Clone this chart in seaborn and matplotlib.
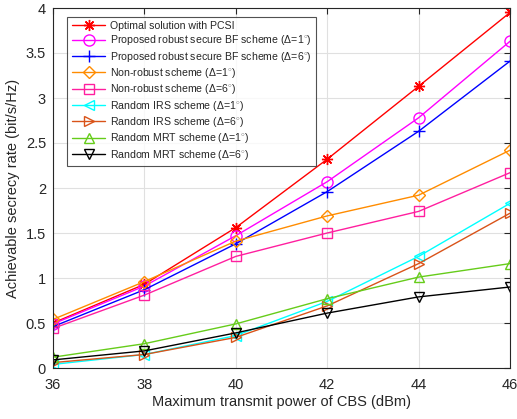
import numpy as np
import pandas as pd
import matplotlib
matplotlib.use("Agg")
import matplotlib.pyplot as plt
import seaborn as sns

# transmit power of CBS (dBm)
power = [36, 38, 40, 42, 44, 46]

optimal_pcsi = [0.50, 0.93, 1.56, 2.32, 3.13, 3.95]
robust_d1 = [0.49, 0.91, 1.47, 2.07, 2.78, 3.63]
robust_d6 = [0.46, 0.87, 1.38, 1.96, 2.63, 3.41]
nonrobust_d1 = [0.54, 0.96, 1.41, 1.69, 1.92, 2.42]
nonrobust_d6 = [0.44, 0.81, 1.24, 1.50, 1.74, 2.17]
rand_irs_d1 = [0.04, 0.15, 0.36, 0.74, 1.24, 1.83]
rand_irs_d6 = [0.06, 0.15, 0.34, 0.69, 1.16, 1.72]
rand_mrt_d1 = [0.12, 0.27, 0.49, 0.77, 1.01, 1.16]
rand_mrt_d6 = [0.09, 0.19, 0.39, 0.61, 0.79, 0.90]

labels = [
    "Optimal solution with PCSI",
    r"Proposed robust secure BF scheme ($\Delta$=1$^{\circ}$)",
    r"Proposed robust secure BF scheme ($\Delta$=6$^{\circ}$)",
    r"Non-robust scheme ($\Delta$=1$^{\circ}$)",
    r"Non-robust scheme ($\Delta$=6$^{\circ}$)",
    r"Random IRS scheme ($\Delta$=1$^{\circ}$)",
    r"Random IRS scheme ($\Delta$=6$^{\circ}$)",
    r"Random MRT scheme ($\Delta$=1$^{\circ}$)",
    r"Random MRT scheme ($\Delta$=6$^{\circ}$)",
]
series = [optimal_pcsi, robust_d1, robust_d6, nonrobust_d1, nonrobust_d6,
          rand_irs_d1, rand_irs_d6, rand_mrt_d1, rand_mrt_d6]
colors = ["#ff0000", "#ff00ff", "#0000ff", "#ff8c00", "#ff1f9f",
          "#00ffff", "#d95319", "#66cc1a", "#000000"]
markers = [(8, 2, 0), "o", "+", "D", "s", "<", ">", "^", "v"]
msizes = [8, 8, 9, 6.5, 6.5, 7.5, 7.5, 7.5, 7.5]

sns.set_style("white")
plt.rcParams["font.family"] = ["Liberation Sans", "DejaVu Sans"]
plt.rcParams["mathtext.fontset"] = "custom"
plt.rcParams["mathtext.rm"] = "Liberation Sans"

fig = plt.figure(figsize=(5.17, 4.19), dpi=100)
ax = fig.add_axes([53 / 517, 51 / 419, 457 / 517, 360 / 419])

for lab, vals, c, m, ms in zip(labels, series, colors, markers, msizes):
    df = pd.DataFrame({"power": power, "rate": vals})
    sns.lineplot(data=df, x="power", y="rate", ax=ax, color=c, marker=m,
                 markersize=ms, markerfacecolor="none", markeredgecolor=c,
                 markeredgewidth=1.0, linewidth=1.0, label=lab)

ax.set_xlim(36, 46)
ax.set_ylim(0, 4)
ax.set_xticks(power)
ax.set_yticks(np.arange(0, 4.01, 0.5))
ax.set_yticklabels(["0", "0.5", "1", "1.5", "2", "2.5", "3", "3.5", "4"])
ax.grid(True, color="#e0e0e0", linewidth=0.8)
ax.tick_params(direction="in", labelsize=10.5, length=4, colors="#262626",
               top=True, right=True)
ax.tick_params(axis="x", pad=7)
ax.tick_params(axis="y", pad=5)
for s in ax.spines.values():
    s.set_color("#262626")
    s.set_linewidth(0.8)
ax.set_xlabel("Maximum transmit power of CBS (dBm)", fontsize=10.5, color="#262626",
              labelpad=2)
ax.set_ylabel("Achievable secrecy rate (bit/s/Hz)", fontsize=10.5, color="#262626")

leg = ax.legend(loc="upper left", bbox_to_anchor=(0.02, 0.99), fontsize=7.6,
                frameon=True, fancybox=False, edgecolor="#262626",
                handlelength=3.2, labelspacing=0.22, borderpad=0.4,
                handletextpad=0.4)
leg.get_frame().set_linewidth(0.8)

fig.savefig("out.png", dpi=100)
